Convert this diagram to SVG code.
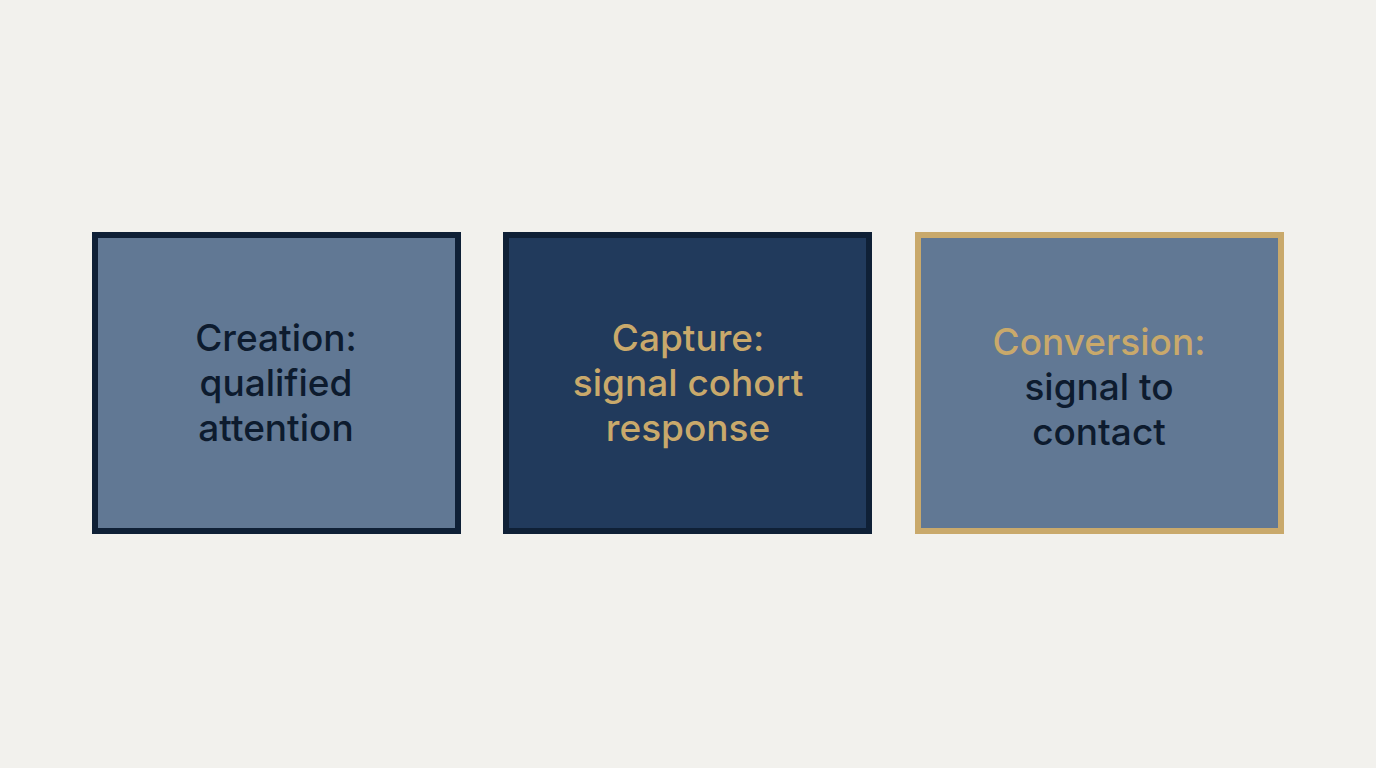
<svg xmlns="http://www.w3.org/2000/svg" width="1376" height="768" viewBox="0 0 1376 768">
<style>
.box{stroke-width:6}
.t{font-family:Inter,"Noto Sans",sans-serif;font-size:37px;font-weight:500;text-anchor:middle;dominant-baseline:central}
.dk{fill:#0d1b2e}.gd{fill:#c9a96b}
</style>
<rect width="1376" height="768" fill="#f2f1ed"/>
<g id="connectors"></g>
<g id="node1"><rect class="box" x="95" y="235" width="363" height="296" fill="#617894" stroke="#0f2036"/>
<text class="t dk" x="276" y="337">Creation:</text><text class="t dk" x="276" y="382">qualified</text><text class="t dk" x="276" y="427">attention</text></g>
<g id="node2"><rect class="box" x="506" y="235" width="363" height="296" fill="#213a5c" stroke="#0f2036"/>
<text class="t gd" x="688" y="337">Capture:</text><text class="t gd" x="688" y="382">signal cohort</text><text class="t gd" x="688" y="427">response</text></g>
<g id="node3"><rect class="box" x="918" y="235" width="363" height="296" fill="#617894" stroke="#c9a96b"/>
<text class="t gd" x="1099" y="341">Conversion:</text><text class="t dk" x="1099" y="386">signal to</text><text class="t dk" x="1099" y="431">contact</text></g>
</svg>
